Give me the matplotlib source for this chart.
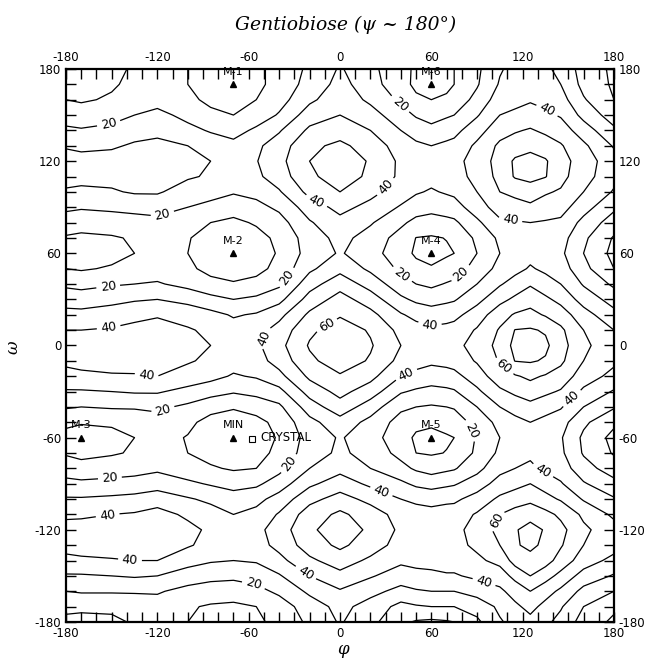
import matplotlib.pyplot as plt
import numpy as np
from matplotlib.ticker import MultipleLocator

plt.rcParams['axes.unicode_minus'] = False
plt.rcParams['font.family'] = ['DejaVu Sans']

# grid nodes (degrees)
phi = [-180, -170, -150, -135, -120, -100, -85, -70, -55, -40, -20,
       0, 20, 40, 50, 60, 70, 75, 90, 105, 115, 125, 135, 145, 160, 180]
omega = list(range(-180, 181, 10))

# relative energy: one list per phi column, omega -180 .. 180
e_m180 = [8, 12, 20, 29, 37, 44, 44, 38, 31, 23, 15, 9, 7, 12, 21, 29, 37, 42, 44,
          40, 33, 26, 18, 10, 7, 9, 15, 22, 29, 33, 34, 29, 22, 15, 10, 8.5, 8]
e_m170 = [7, 12, 21, 29, 38, 45, 45, 38, 31, 22, 14, 7, 4, 11, 20, 29, 38, 43, 45,
          40, 33, 25, 17, 9, 5, 8, 14, 21, 28, 33, 33, 28, 21, 14, 9, 7.5, 7]
e_m150 = [8, 12, 21, 30, 39, 46, 46, 40, 32, 23, 15, 9, 6, 12, 21, 30, 39, 44, 45,
          41, 35, 27, 19, 11, 7, 9, 15, 22, 29, 33, 33, 29, 23, 16, 11, 9, 8]
e_m135 = [11, 14, 21, 31, 40, 46, 47, 41, 33, 24, 16, 11, 10, 14, 21, 31, 39, 45, 46,
          43, 37, 29, 20, 13, 10, 11, 16, 23, 31, 34, 33, 31, 27, 20, 14, 12, 11]
e_m120 = [13, 16, 21, 30, 40, 46, 48, 44, 35, 26, 18, 14, 13, 16, 22, 31, 40, 45, 46,
          44, 39, 30, 21, 15, 12, 13, 17, 24, 31, 33, 32, 31, 29, 23, 16, 14, 13]
e_m100 = [10, 11, 17, 25, 34, 41, 43, 38, 31, 22, 14, 10, 9.5, 12, 18, 27, 36, 41, 43,
          41, 36, 27, 17, 12, 10, 10.5, 14, 20, 26, 31, 31.5, 30, 23, 17, 12, 10, 10]
e_m85 = [7, 9, 15, 23, 31, 37, 38, 34, 28, 19, 11, 7, 5, 7, 13, 24, 33, 38, 40,
         38, 33, 23, 13, 7, 5, 7, 10, 17, 24, 29, 30, 26, 19, 12, 8, 6, 7]
e_m70 = [6, 8, 15, 22, 30, 33, 34, 30, 25, 16, 9, 5, 3, 5, 11, 21, 29, 34, 36,
         34, 29, 20, 11, 5, 3, 5, 8, 14, 21, 26, 27, 23, 16, 10, 7, 5, 6]
e_m55 = [8, 10, 17, 24, 31, 36, 37, 33, 27, 18, 10, 6, 5, 7, 14, 23, 31, 36, 38,
         36, 31, 22, 13, 7, 5, 7, 11, 17, 23, 28, 29.5, 28, 22, 14, 10, 8, 8]
e_m40 = [13, 15, 22, 29, 37, 43, 45, 41, 34, 25, 17, 13, 11, 13, 18, 27, 37, 44, 47,
         44, 37, 27, 18, 13, 11, 12, 16, 22, 29, 35, 37, 35, 29, 21, 16, 13, 13]
e_m20 = [22, 25, 32, 40, 48, 55, 58, 55, 47, 38, 30, 25, 24, 27, 35, 44, 52, 58, 61,
         58, 52, 44, 36, 28, 24, 25, 29, 35, 43, 48, 50, 48, 42, 35, 28, 24, 22]
e_0 = [31, 33, 39, 47, 55, 62, 66, 62, 54, 45, 37, 32, 31, 36, 46, 53, 59, 65, 67,
       65, 59, 54, 46, 37, 31, 33, 37, 43, 50, 55, 56, 52, 46, 40, 36, 33, 31]
e_20 = [23, 26, 33, 41, 48, 55, 58, 55, 47, 38, 30, 26, 24, 27, 35, 45, 53, 59, 61,
        59, 53, 45, 36, 28, 24, 26, 31, 37, 43, 48, 49, 46, 40, 34, 28, 25, 23]
e_40 = [12, 17, 27, 35, 42, 46, 48, 46, 40, 32, 23, 17, 14, 16, 22, 31, 40, 47, 50,
        47, 41, 32, 24, 18, 14, 16, 22, 29, 35, 38, 38, 35, 30, 24, 18, 12, 12]
e_50 = [9, 19, 29, 37, 43, 46, 47, 44, 38, 28, 18.5, 10, 8.5, 12.5, 20, 28.5, 37, 44, 47.5,
        44, 37, 28, 20, 13, 8.5, 9.8, 17, 25, 31, 35, 35.5, 32, 25.5, 19, 11, 8.8, 9]
e_60 = [8, 20, 30, 38, 43, 46, 46, 43, 37, 26, 16, 9, 6.5, 12, 19, 27, 35, 42, 46,
        42, 35, 26, 18, 11, 6.5, 9, 16, 23, 29, 33, 34, 30, 23, 16, 10, 7, 8]
e_70 = [9, 20, 30, 39, 44, 47, 47, 44, 38, 28, 18, 10.3, 9, 13.3, 20, 28, 36, 43, 46.7,
        43, 36, 28, 20.7, 13.7, 8.8, 10.3, 17, 25, 31, 35, 36, 32, 25.7, 18.7, 11, 8.5, 9]
e_75 = [10, 20, 30, 39, 44, 47, 47, 45, 38, 29, 19, 12, 10, 14, 21, 29, 37, 44, 47,
        44, 37, 29, 22, 15, 10, 12, 18, 26, 32, 36, 37, 33, 27, 20, 14, 10, 10]
e_90 = [18, 24, 34, 42, 48, 52, 54, 51, 44, 35, 27, 22, 21, 24, 30, 38, 45, 51, 54,
        51, 45, 37, 30, 24, 20, 22, 28, 35, 40, 43, 44, 42, 36, 29, 23, 19, 18]
e_105 = [29, 32, 38, 45, 53, 60, 63, 60, 52, 44, 37, 32, 30, 33, 40, 48, 56, 61, 63,
         61, 56, 47, 39, 33, 30, 32, 38, 45, 50, 53, 54, 52, 46, 40, 35, 31, 29]
e_115 = [33, 38, 44, 53, 64, 69.5, 69.5, 64, 55, 47, 40, 35, 33, 37, 44, 52, 59, 70.3, 73,
         70.3, 61, 52, 44, 37, 33.5, 35, 39, 47, 52, 61, 61.5, 55, 49, 42, 37, 34, 33]
e_125 = [37, 43, 50, 60, 68.5, 71, 72, 68, 57, 50, 42, 38, 36, 40, 47, 55, 62, 71, 76,
         71, 63, 56, 49, 41, 37, 38, 40, 48, 55, 63, 64, 57, 51, 44, 39, 37.5, 37]
e_135 = [32, 37, 44, 54, 64, 69, 69.5, 63, 53, 46, 38, 34, 33, 37, 44, 52, 59, 69, 72,
         69, 59, 52, 44, 38, 34.5, 36, 39, 46, 51, 60.5, 61, 55, 48, 42, 37, 34, 32]
e_145 = [27, 31, 38, 47, 56, 61, 63, 58, 49, 41, 35, 32, 31, 34, 41, 49, 56, 62, 64,
         62, 55, 47, 40, 35, 32, 34, 38, 44, 49, 53, 54, 51, 45, 39, 34, 30, 27]
e_160 = [16, 20, 27, 36, 45, 50, 52, 48, 39, 31, 24, 19, 18, 22, 30, 38, 45, 50, 52,
         50, 44, 36, 29, 23, 20, 22, 27, 34, 40, 44, 45, 42, 35, 27, 21, 17, 16]
e_180 = e_m180  # periodic edge

columns = [e_m180, e_m170, e_m150, e_m135, e_m120, e_m100, e_m85, e_m70, e_m55, e_m40,
           e_m20, e_0, e_20, e_40, e_50, e_60, e_70, e_75, e_90, e_105, e_115, e_125,
           e_135, e_145, e_160, e_180]
energy = np.array(columns).T

odd_levels = [10, 30, 50, 70]
even_levels = [20, 40, 60]   # the labelled ones

# local minima and the crystal conformation
min_names = ['M-1', 'M-6', 'M-2', 'M-4', 'M-3', 'MIN', 'M-5']
min_phi = [-70, 60, -70, 60, -170, -70, 60]
min_omega = [170, 170, 60, 60, -60, -60, -60]
crystal_phi = [-58]
crystal_omega = [-61]

# where the contour labels sit
label_pos = [(-152, 145), (-116, 83), (-152, 36), (-152, 12), (-36, 45),
             (-16, 93), (-8, 12), (-50, 5), (36, 153), (136, 153), (29, 104),
             (112, 82), (40, 45), (81, 45), (59, 13), (106, -16), (152, -34),
             (44, -20), (26, -98), (87, -55), (133, -82), (105, -115),
             (94, -156), (-127, -19), (-116, -43), (-151, -89), (-152, -115),
             (-138, -140), (-57, -157), (-26, -153), (-35, -76)]

fig = plt.figure(figsize=(6.55, 6.6), dpi=100)
ax = fig.add_axes([0.1008, 0.0576, 0.8366, 0.8379])

ax.contour(phi, omega, energy, levels=odd_levels, colors='black', linewidths=0.9)
cs = ax.contour(phi, omega, energy, levels=even_levels, colors='black', linewidths=0.9)
ax.clabel(cs, manual=label_pos, fmt='%d', inline=True, inline_spacing=4, fontsize=9)

ax.plot(min_phi, min_omega, '^', color='black', ms=4)
for n, p, o in zip(min_names, min_phi, min_omega):
    ax.text(p, o + 5, n, ha='center', va='bottom', fontsize=8)
ax.plot(crystal_phi, crystal_omega, 's', mfc='none', mec='black', ms=4, mew=0.8)
ax.text(crystal_phi[0] + 6, crystal_omega[0] + 1, 'CRYSTAL', ha='left', va='center', fontsize=8.5)

ax.set_xlim(-180, 180)
ax.set_ylim(-180, 180)
ax.set_xticks(range(-180, 181, 60))
ax.set_yticks(range(-180, 181, 60))
ax.xaxis.set_minor_locator(MultipleLocator(10))
ax.yaxis.set_minor_locator(MultipleLocator(10))
ax.tick_params(which='both', direction='in', top=True, right=True,
               labeltop=True, labelright=True, length=7, width=1, labelsize=8.5)
for s in ax.spines.values():
    s.set_linewidth(1.6)

fig.text(0.527, 0.962, 'Gentiobiose (ψ ~ 180°)', ha='center', va='center',
         family='DejaVu Serif', style='italic', fontsize=13.5)
fig.text(0.02, 0.474, 'ω', rotation=90, ha='center', va='center',
         family='DejaVu Serif', style='italic', fontsize=12)
fig.text(0.524, 0.016, 'φ', ha='center', va='center',
         family='DejaVu Serif', style='italic', fontsize=12)

fig.savefig('out.png', dpi=100)
